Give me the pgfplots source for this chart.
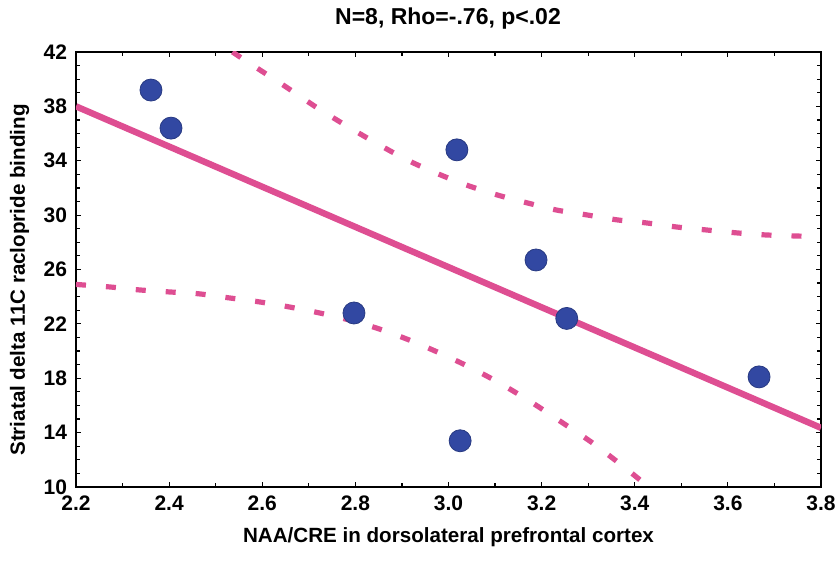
\documentclass[border=0pt]{standalone}
\usepackage{pgfplots}
\pgfplotsset{compat=1.18}
\usepackage{fontspec}
\setmainfont{Liberation Sans}

\definecolor{fitpink}{RGB}{222,78,146}
\definecolor{dotblue}{RGB}{50,72,162}

\begin{document}
\begin{tikzpicture}
\path[use as bounding box] (-38pt,-37pt) rectangle (380.5pt,243.5pt);
\begin{axis}[
    at={(0,0)}, anchor=south west,
    scale only axis,
    width=372.5pt, height=217.5pt,
    xmin=2.2, xmax=3.8, ymin=10, ymax=42,
    xtick={2.2,2.4,...,3.8},
    ytick={10,14,...,42},
    minor x tick num=1,
    minor y tick num=3,
    tick align=inside,
    major tick length=2.5pt,
    minor tick length=2pt,
    axis line style={line width=1pt},
    tick style={black, line width=0.6pt},
    /pgf/number format/assume math mode=true,
    xticklabel style={/pgf/number format/.cd, fixed, fixed zerofill, precision=1, /tikz/.cd, font=\fontsize{10.5}{12}\selectfont\bfseries, yshift=-1pt},
    yticklabel style={font=\fontsize{10.5}{12}\selectfont\bfseries, xshift=-1pt},
    xlabel={NAA/CRE in dorsolateral prefrontal cortex},
    ylabel={Striatal delta 11C raclopride binding},
    xlabel style={at={(axis description cs:0.5,-0.1287)}, anchor=base, font=\fontsize{10.3}{12}\selectfont\bfseries},
    ylabel style={at={(axis description cs:-0.0685,0.476)}, anchor=base, font=\fontsize{10.3}{12}\selectfont\bfseries},
]
% data points
\addplot[only marks, mark=*, mark size=5.5pt, mark options={fill=dotblue, draw=dotblue!80!black, line width=0.4pt}]
  coordinates {(2.361,39.2) (2.404,36.4) (3.018,34.8) (3.188,26.7) (3.254,22.4) (2.797,22.8) (3.025,13.4) (3.667,18.1)};
% regression line
\addplot[fitpink, line width=3.2pt] coordinates {(2.2,38.0) (3.8,14.35)};
% upper confidence band
\addplot[fitpink, line width=2.6pt, dash pattern=on 5pt off 10pt, smooth]
  coordinates {(2.536,42.0) (2.572,41.19) (2.651,39.43) (2.715,37.96) (2.778,36.63) (2.844,35.31) (2.911,34.06) (2.973,33.10) (3.038,32.22) (3.104,31.49) (3.169,30.90) (3.231,30.38) (3.298,30.01) (3.362,29.65) (3.424,29.43) (3.489,29.13) (3.553,28.91) (3.620,28.69) (3.682,28.54) (3.760,28.45)};
% lower confidence band
\addplot[fitpink, line width=2.6pt, dash pattern=on 5pt off 10pt, smooth]
  coordinates {(2.200,24.90) (2.271,24.72) (2.335,24.50) (2.400,24.35) (2.464,24.21) (2.529,23.91) (2.593,23.62) (2.657,23.25) (2.722,22.81) (2.786,22.29) (2.851,21.63) (2.915,20.82) (2.980,19.87) (3.044,18.84) (3.109,17.66) (3.177,16.26) (3.242,14.79) (3.306,13.32) (3.371,11.63) (3.430,10.00)};
\end{axis}
% title
\node[anchor=base, font=\fontsize{11.5}{13}\selectfont\bfseries] at (186pt,231pt) {N=8, Rho=-.76, p<.02};
\end{tikzpicture}
\end{document}
